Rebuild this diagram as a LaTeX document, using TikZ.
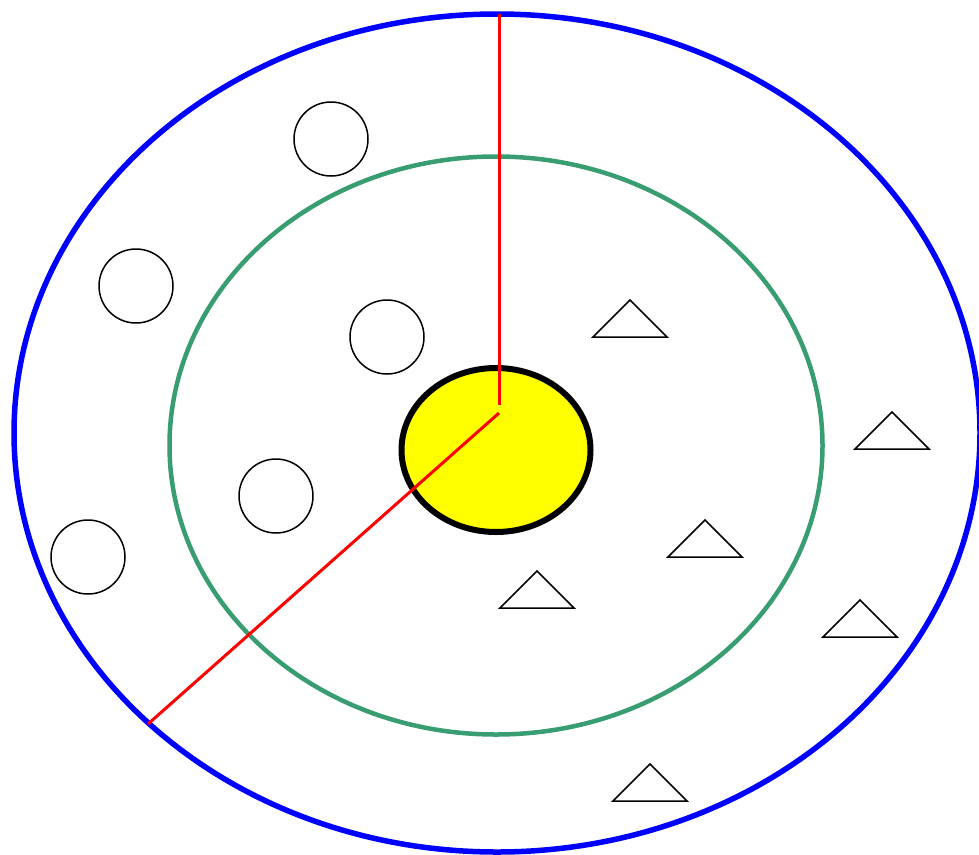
\documentclass[tikz,border=0pt]{standalone}
\begin{document}
\begin{tikzpicture}[x=1pt,y=-1pt,
  smallcirc/.style={draw=black,line width=1.5pt,circle,minimum size=74pt,inner sep=0pt},
  tri/.style={draw=black,line width=1.5pt,line join=miter},
  redline/.style={draw=red,line width=3pt}]
\useasboundingbox (0,0) rectangle (979,854);
\draw[blue,line width=5.5pt] (497,433) ellipse [x radius=483, y radius=419];
\draw[draw={rgb,255:red,56;green,157;blue,112},line width=4.5pt] (496,445.5) ellipse [x radius=326.5, y radius=289];
\draw[fill={rgb,255:red,255;green,255;blue,0},draw=black,line width=6pt] (496,450) ellipse [x radius=94.5, y radius=82];
\coordinate (top) at (499,14);
\coordinate (c1) at (499,405);
\coordinate (c2) at (499,413);
\coordinate (rim) at (148,724);
\draw[redline] (top) -- (c1);
\draw[redline] (c2) -- (rim);
\node[smallcirc] (o1) at (331,139) {};
\node[smallcirc] (o2) at (136,286) {};
\node[smallcirc] (o3) at (387,337) {};
\node[smallcirc] (o4) at (276,496) {};
\node[smallcirc] (o5) at (88,557) {};
\foreach \x/\y in {630/300, 892/412, 705/520, 537/571, 860/600, 650/764}{
  \draw[tri] (\x,\y) -- (\x-37,\y+37) -- (\x+37,\y+37) -- cycle;
}
\end{tikzpicture}
\end{document}
